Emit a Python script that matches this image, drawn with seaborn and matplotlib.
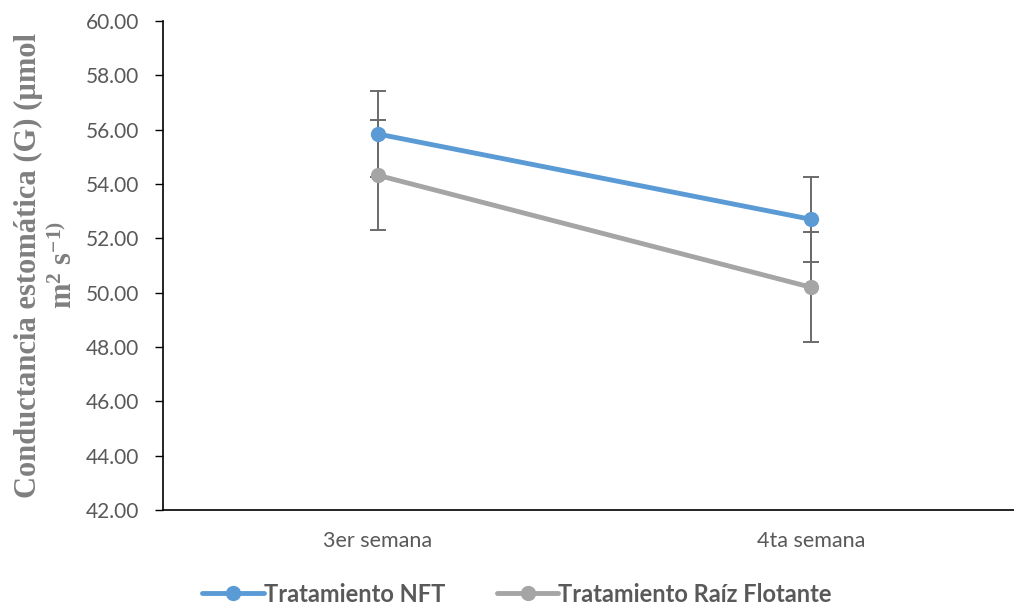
import matplotlib
matplotlib.use("Agg")
import matplotlib.pyplot as plt
import seaborn as sns
import pandas as pd

# Data
semanas = ["3er semana", "4ta semana"]
nft = [55.84, 52.70]
nft_err = [1.57, 1.57]
raiz = [54.32, 50.20]
raiz_err = [2.03, 2.03]
series = ["Tratamiento NFT", "Tratamiento Raíz Flotante"]
colores = ["#5B9BD5", "#A5A5A5"]
yticks = [42, 44, 46, 48, 50, 52, 54, 56, 58, 60]

sns.set_theme(style="white")
plt.rcParams["font.family"] = ["Lato", "DejaVu Sans"]
plt.rcParams["mathtext.fontset"] = "custom"
plt.rcParams["mathtext.rm"] = "Liberation Serif:bold"
plt.rcParams["mathtext.it"] = "Liberation Serif:bold"
plt.rcParams["mathtext.bf"] = "Liberation Serif:bold"

df = pd.DataFrame({
    "pos": list(range(len(semanas))) * 2,
    "valor": nft + raiz,
    "serie": [series[0]] * len(semanas) + [series[1]] * len(semanas),
})

fig = plt.figure(figsize=(10.14, 6.05), dpi=100)
ax = fig.add_axes([163 / 1014, 95 / 605, 851 / 1014, 489 / 605])

# error bars first so markers sit on top
for vals, errs in [(nft, nft_err), (raiz, raiz_err)]:
    ax.errorbar(range(len(semanas)), vals, yerr=errs, fmt="none",
                ecolor="#6A6A6A", elinewidth=1.4, capsize=6, capthick=1.4,
                zorder=1)

sns.lineplot(data=df, x="pos", y="valor", hue="serie", palette=colores,
             marker="o", markersize=11, markeredgewidth=0, linewidth=3.5,
             ax=ax, zorder=3, legend=True)

ax.set_xlim(-0.4964, 1.469)
ax.set_ylim(42, 60)
ax.set_yticks(yticks)
ax.set_yticklabels([f"{v:.2f}" for v in yticks])
ax.set_xticks(range(len(semanas)))
ax.set_xticklabels(semanas)

ax.tick_params(axis="y", which="both", left=True, length=5.8, width=1,
               color="black", labelsize=15, labelcolor="#595959", pad=11.5)
ax.tick_params(axis="x", bottom=False, labelsize=15.5, labelcolor="#595959",
               pad=9)

for s in ["top", "right"]:
    ax.spines[s].set_visible(False)
for s in ["left", "bottom"]:
    ax.spines[s].set_color("black")
    ax.spines[s].set_linewidth(1.2)

ax.set_xlabel("")
ax.set_ylabel("Conductancia estomática (G) (µmol\nm$^{2}$ s$^{-1)}$",
              family="Liberation Serif", fontweight="bold", fontsize=22,
              color="#7F7F7F", linespacing=1.2)
ax.yaxis.set_label_coords(-0.099, 0.5)

handles, labels = ax.get_legend_handles_labels()
leg = ax.legend(handles, labels, loc="center", bbox_to_anchor=(0.416, -0.172),
                ncol=2, frameon=False, handlelength=2.6, handletextpad=0.0,
                columnspacing=2.2,
                prop={"family": "Lato", "weight": "bold", "size": 17})
for t in leg.get_texts():
    t.set_color("#595959")

fig.savefig("out.png", dpi=100)
